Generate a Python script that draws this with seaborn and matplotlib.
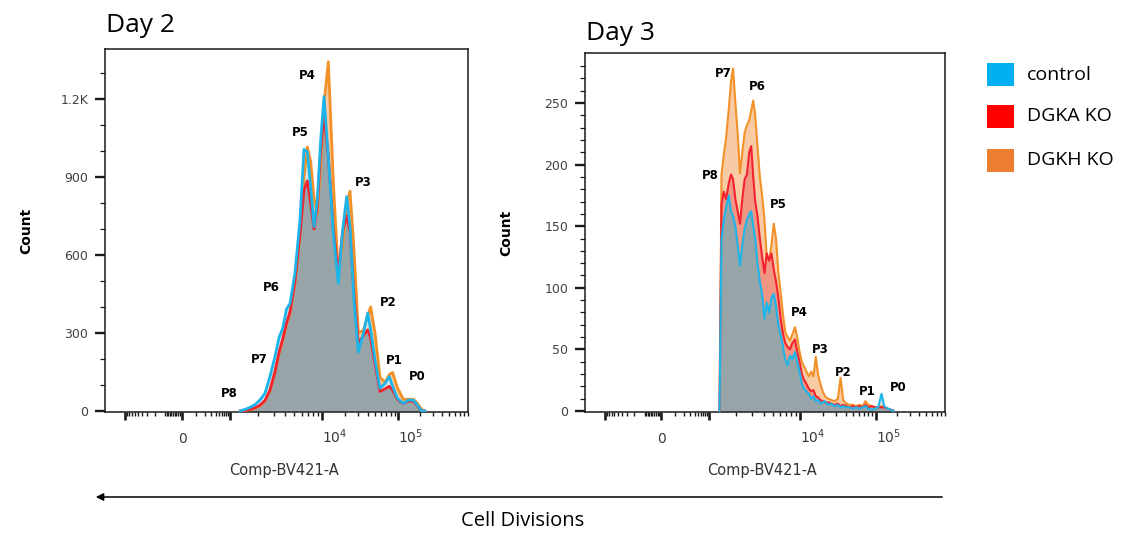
import numpy as np
import pandas as pd
import matplotlib
matplotlib.use("Agg")
import matplotlib.pyplot as plt
import seaborn as sns
from matplotlib.patches import Rectangle

# ---------------- data ----------------
samples = ["control", "DGKA KO", "DGKH KO"]
line_colors = {"control": "#1DB4EA", "DGKA KO": "#F2232E", "DGKH KO": "#F39129"}
fill_colors = {"control": "#D3E4EA", "DGKA KO": "#F29684", "DGKH KO": "#F9CBA4"}
legend_colors = ["#00B0F0", "#FF0000", "#ED7D31"]
overlap_color = "#97A5A9"

# Day 2 (Comp-BV421-A intensity, counts)
day2_x = [1284, 1456, 1650, 1869, 2118, 2401, 2721, 3084, 3438, 3737, 4130, 4490,
          5087, 5768, 6373, 6928, 7530, 8185, 8898, 9672, 10625, 12115, 14100,
          16405, 18700, 21120, 23360, 26370, 30080, 34990, 39900, 43700, 49820,
          57970, 67450, 76910, 85100, 98000, 118300, 138500, 162200, 184000,
          211000, 234400]
day2_control = [0, 6, 14, 24, 42, 68, 132, 209, 286, 317, 393, 413, 531, 735, 1006,
                997, 863, 709, 812, 1042, 1209, 978, 684, 490, 696, 824, 708, 426,
                227, 298, 376, 312, 196, 87, 106, 132, 94, 49, 29, 42, 42, 23, 0, 0]
day2_dgka = [0, 2, 6, 12, 22, 40, 80, 150, 230, 275, 340, 380, 500, 680, 850, 885,
             800, 700, 790, 1000, 1140, 980, 700, 530, 690, 750, 690, 450, 260, 290,
             312, 280, 180, 75, 85, 95, 80, 45, 28, 38, 38, 20, 0, 0]
day2_dgkh = [0, 2, 5, 10, 20, 38, 78, 148, 225, 270, 335, 375, 495, 690, 900, 1015,
             960, 820, 760, 950, 1180, 1343, 880, 525, 640, 800, 845, 620, 300, 310,
             365, 400, 300, 130, 110, 140, 148, 90, 45, 45, 45, 30, 5, 0]

# Day 3
day3_x = [1306, 1373, 1456, 1543, 1650, 1749, 1839, 1950, 2067, 2191, 2322, 2462,
          2610, 2767, 2910, 3059, 3216, 3409, 3614, 3831, 4062, 4306, 4565, 4839,
          5130, 5438, 5768, 6113, 6481, 6871, 7284, 7722, 8185, 8750, 9277, 9835,
          10520, 11290, 12115, 13000, 13950, 14980, 16080, 17250, 18510, 19870,
          21320, 23360, 25840, 28580, 31620, 34290, 37170, 40700, 45030, 49820,
          55110, 60970, 67450, 73110, 80080, 88590, 98000, 108800, 120850, 131450,
          146000, 162200, 180200]
day3_control = [0, 140, 155, 165, 175, 162, 158, 150, 135, 118, 135, 148, 155, 160,
                162, 150, 140, 120, 105, 95, 75, 88, 80, 92, 95, 85, 70, 62, 52, 42,
                37, 45, 42, 48, 40, 32, 22, 18, 16, 14, 10, 12, 8, 9, 6, 7, 8, 5, 6,
                4, 5, 3, 4, 3, 3, 2, 3, 2, 3, 4, 2, 1, 2, 3, 14, 4, 2, 1, 0]
day3_dgka = [0, 168, 178, 172, 185, 192, 188, 172, 162, 152, 172, 188, 192, 210,
             215, 190, 170, 158, 140, 125, 112, 128, 122, 128, 115, 105, 92, 75, 63,
             55, 52, 50, 55, 58, 48, 40, 30, 25, 22, 18, 16, 17, 12, 11, 9, 8, 7, 7,
             6, 5, 6, 4, 5, 4, 3, 4, 3, 4, 3, 5, 3, 4, 3, 3, 3, 3, 2, 1, 0]
day3_dgkh = [0, 192, 208, 222, 245, 268, 278, 250, 225, 193, 210, 226, 232, 236,
             244, 252, 240, 215, 190, 175, 155, 125, 122, 135, 152, 140, 112, 96, 78,
             64, 60, 57, 62, 68, 60, 48, 40, 36, 32, 28, 32, 28, 44, 30, 22, 16, 12,
             10, 9, 8, 10, 27, 9, 6, 5, 5, 4, 5, 4, 8, 5, 4, 3, 3, 4, 3, 2, 1, 0]

peak_labels = ["P0", "P1", "P2", "P3", "P4", "P5", "P6", "P7", "P8"]

x_major = [-1000, 0, 1000, 10000, 100000]
x_labelled = [0, 10000, 100000]
x_label_text = ["0", "$10^4$", "$10^5$"]
x_minor = ([-k * 100 for k in range(1, 10)] + [-k * 10 for k in range(1, 10)] +
           [k * 100 for k in range(1, 10)] + [k * 1000 for k in range(2, 10)] +
           [k * 10000 for k in range(2, 10)] + [k * 100000 for k in range(2, 10)])

day2_yticks = [0, 300, 600, 900, 1200]
day2_ytick_labels = ["0", "300", "600", "900", "1.2K"]
day2_yminor = list(range(0, 1400, 100))
day3_yticks = [0, 50, 100, 150, 200, 250]
day3_ytick_labels = ["0", "50", "100", "150", "200", "250"]
day3_yminor = list(range(0, 290, 10))

# ---------------- biexponential-like axis scale ----------------
C = 100.0
anchor_v = np.array([-1e5, -1e3, 0.0, 1e3, 1e4, 1e5, 1e6])
anchor_u = np.array([-150.0, 20.0, 77.0, 125.0, 217.0, 293.0, 366.0])
anchor_g = np.arcsinh(anchor_v / C)


def fwd(v):
    return np.interp(np.arcsinh(np.asarray(v, dtype=float) / C), anchor_g, anchor_u)


def inv(u):
    return C * np.sinh(np.interp(np.asarray(u, dtype=float), anchor_u, anchor_g))


# ---------------- style ----------------
sns.set_theme(style="white")
plt.rcParams["font.family"] = ["DejaVu Sans"]
plt.rcParams["axes.linewidth"] = 1.1
plt.rcParams["axes.edgecolor"] = "#1a1a1a"

W, H = 1121, 535
fig = plt.figure(figsize=(W / 100, H / 100), dpi=100)


def box(l, t, r, b):
    return [l / W, 1 - b / H, (r - l) / W, (b - t) / H]


ax2 = fig.add_axes(box(105, 49, 468, 412))
ax3 = fig.add_axes(box(585, 53, 945, 412))

hue_order = ["DGKH KO", "DGKA KO", "control"]


def draw_panel(ax, x, ctrl, dgka, dgkh, ylim, yticks, ylabels, yminor, plabels, lw):
    df = pd.DataFrame({
        "x": list(x) * 3,
        "count": list(ctrl) + list(dgka) + list(dgkh),
        "sample": ["control"] * len(x) + ["DGKA KO"] * len(x) + ["DGKH KO"] * len(x),
    })
    ax.set_xscale("function", functions=(fwd, inv))
    xa = np.asarray(x, float)
    series = {"control": np.asarray(ctrl, float), "DGKA KO": np.asarray(dgka, float),
              "DGKH KO": np.asarray(dgkh, float)}
    for s in hue_order:
        ax.fill_between(xa, 0, series[s], color=fill_colors[s], lw=0, zorder=1)
    ax.fill_between(xa, 0, np.minimum.reduce([series[s] for s in samples]),
                    color=overlap_color, lw=0, zorder=2)
    sns.lineplot(data=df, x="x", y="count", hue="sample", hue_order=hue_order,
                 palette=line_colors, estimator=None, sort=False, linewidth=lw,
                 legend=False, ax=ax, zorder=3)
    ax.set_xlim(inv(0), inv(363))
    ax.set_ylim(*ylim)

    ax.set_xticks(x_major)
    ax.set_xticks(x_minor, minor=True)
    ax.set_xticklabels([])
    ax.set_yticks(yticks)
    ax.set_yticklabels(ylabels)
    ax.set_yticks(yminor, minor=True)
    ax.tick_params(axis="y", which="major", direction="out", length=7.2, width=1.7,
                   labelsize=9, labelcolor="#404040", pad=5, color="#1a1a1a")
    ax.tick_params(axis="y", which="minor", direction="out", length=3.6, width=0.9,
                   color="#1a1a1a")
    ax.tick_params(axis="x", which="major", direction="out", length=6.0, width=1.9,
                   color="#1a1a1a")
    ax.tick_params(axis="x", which="minor", direction="out", length=3.2, width=1.0,
                   color="#1a1a1a")
    ax.tick_params(which="both", bottom=True, left=True, top=False, right=False)
    for s in ax.spines.values():
        s.set_visible(True)

    tr = ax.get_xaxis_transform()
    for v, t in zip(x_labelled, x_label_text):
        ax.text(v, -0.085, t, transform=tr, ha="center" if v == 0 else "left",
                va="baseline", fontsize=10, color="#383838")

    ax.set_xlabel("Comp-BV421-A", fontsize=10.5, color="#333333")
    ax.set_ylabel("Count", fontsize=10, fontweight="bold", color="black")
    for lab, (fx, fy) in zip(peak_labels, plabels):
        ax.text(fx, fy, lab, transform=ax.transAxes, ha="center", va="center",
                fontsize=8.5, fontweight="bold", color="black", zorder=5)


# label positions (axes fractions), order P0..P8
day2_pos = [(0.860, 0.099), (0.796, 0.143), (0.780, 0.303), (0.711, 0.631),
            (0.556, 0.926), (0.537, 0.771), (0.457, 0.344), (0.424, 0.146),
            (0.342, 0.050)]
day3_pos = [(0.869, 0.067), (0.783, 0.058), (0.717, 0.111), (0.653, 0.175),
            (0.594, 0.276), (0.536, 0.579), (0.478, 0.908), (0.383, 0.944),
            (0.347, 0.660)]

draw_panel(ax2, day2_x, day2_control, day2_dgka, day2_dgkh, (-4, 1392),
           day2_yticks, day2_ytick_labels, day2_yminor, day2_pos, 2.0)
draw_panel(ax3, day3_x, day3_control, day3_dgka, day3_dgkh, (-0.8, 290.6),
           day3_yticks, day3_ytick_labels, day3_yminor, day3_pos, 1.5)

ax2.yaxis.set_label_coords(-0.198, 0.5)
ax3.yaxis.set_label_coords(-0.200, 0.5)
ax2.xaxis.set_label_coords(0.493, -0.140)
ax3.xaxis.set_label_coords(0.492, -0.142)

# titles
fig.text(106 / W, 1 - 32 / H, "Day 2", ha="left", va="baseline", fontsize=19,
         family="Open Sans", color="black")
fig.text(586 / W, 1 - 40 / H, "Day 3", ha="left", va="baseline", fontsize=19,
         family="Open Sans", color="black")

# legend
leg_y = [75, 116, 160]
for name, col, yc in zip(samples, legend_colors, leg_y):
    fig.patches.append(Rectangle(((987) / W, 1 - (yc + 11.5) / H), 27 / W, 23 / H,
                                 transform=fig.transFigure, facecolor=col,
                                 edgecolor="none"))
    fig.text(1027 / W, 1 - yc / H, name, ha="left", va="center", fontsize=14,
             family="Open Sans", color="black")

# cell divisions arrow
fig.add_artist(matplotlib.patches.FancyArrowPatch(
    (945 / W, 1 - 497 / H), (93 / W, 1 - 497 / H), transform=fig.transFigure,
    arrowstyle="-|>", mutation_scale=11, color="black", lw=1.1))
fig.text(523 / W, 1 - 521 / H, "Cell Divisions", ha="center", va="center",
         fontsize=14.5, family="Open Sans", color="black")

fig.savefig("out.png", dpi=100)
